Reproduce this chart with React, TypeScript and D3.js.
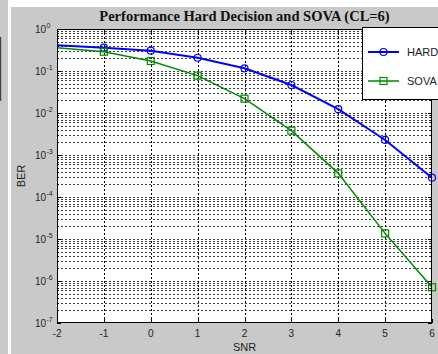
import React, { useRef, useEffect } from "react"
import * as d3 from "d3"

const SNR = [-2, -1, 0, 1, 2, 3, 4, 5, 6]
const HARD = [0.41, 0.36, 0.304, 0.207, 0.116, 0.0464, 0.0123, 0.00228, 0.000288]
const SOVA = [0.36, 0.288, 0.173, 0.0775, 0.0219, 0.0038, 0.000365, 0.0000136, 0.00000071]
const X_TICKS = [-2, -1, 0, 1, 2, 3, 4, 5, 6]
const Y_EXPONENTS = [0, -1, -2, -3, -4, -5, -6, -7]

const WIDTH = 438
const HEIGHT = 354
const PLOT = { left: 57, top: 29, right: 432, bottom: 323 }
const BG = "#c9c9c9"

export default function App() {
  const svgRef = useRef<SVGSVGElement>(null)

  useEffect(() => {
    const svg = svgRef.current
    if (!svg) return
    document.body.style.margin = "0"

    const root = d3.select(svg)
    root.selectAll("*").remove()
    root.attr("width", WIDTH).attr("height", HEIGHT)

    // Figure panels
    root.append("rect").attr("width", WIDTH).attr("height", HEIGHT).attr("fill", "#fff")
    root.append("rect").attr("x", 0).attr("y", 0).attr("width", 8).attr("height", HEIGHT).attr("fill", BG)
    root.append("rect").attr("x", 0).attr("y", 37).attr("width", 1.2).attr("height", 64).attr("fill", "#444")
    root.append("rect").attr("x", 11).attr("y", 7).attr("width", WIDTH - 11).attr("height", HEIGHT - 7).attr("fill", BG)

    const x = d3.scaleLinear().domain([-2, 6]).range([PLOT.left, PLOT.right])
    const y = d3.scaleLog().domain([1e-7, 1]).range([PLOT.bottom, PLOT.top])
    const innerW = PLOT.right - PLOT.left
    const innerH = PLOT.bottom - PLOT.top

    root.append("rect")
      .attr("x", PLOT.left).attr("y", PLOT.top)
      .attr("width", innerW).attr("height", innerH)
      .attr("fill", "#fff")

    // Grid: log minor + major
    const minor: number[] = []
    Y_EXPONENTS.slice(1).forEach((e) => {
      for (let m = 2; m <= 9; m++) minor.push(m * Math.pow(10, e))
    })
    const majors = Y_EXPONENTS.map((e) => Math.pow(10, e))

    const grid = root.append("g").attr("stroke", "#000").attr("stroke-width", 1).attr("stroke-dasharray", "2,2")
    grid.selectAll("line.h").data([...majors.slice(1, -1), ...minor]).join("line")
      .attr("x1", PLOT.left).attr("x2", PLOT.right)
      .attr("y1", (d) => Math.round(y(d)) + 0.5).attr("y2", (d) => Math.round(y(d)) + 0.5)
      .attr("stroke-opacity", 0.75)
    grid.selectAll("line.v").data(X_TICKS.slice(1, -1)).join("line")
      .attr("x1", (d) => Math.round(x(d)) + 0.5).attr("x2", (d) => Math.round(x(d)) + 0.5)
      .attr("y1", PLOT.top).attr("y2", PLOT.bottom)

    // Ticks (inward)
    const ticks = root.append("g").attr("stroke", "#000").attr("stroke-width", 1)
    X_TICKS.forEach((t) => {
      const px = Math.round(x(t)) + 0.5
      ticks.append("line").attr("x1", px).attr("x2", px).attr("y1", PLOT.bottom).attr("y2", PLOT.bottom - 4)
      ticks.append("line").attr("x1", px).attr("x2", px).attr("y1", PLOT.top).attr("y2", PLOT.top + 4)
    })
    majors.forEach((v) => {
      const py = Math.round(y(v)) + 0.5
      ticks.append("line").attr("x1", PLOT.left).attr("x2", PLOT.left + 4).attr("y1", py).attr("y2", py)
      ticks.append("line").attr("x1", PLOT.right).attr("x2", PLOT.right - 4).attr("y1", py).attr("y2", py)
    })
    minor.forEach((v) => {
      const py = Math.round(y(v)) + 0.5
      ticks.append("line").attr("x1", PLOT.left).attr("x2", PLOT.left + 2).attr("y1", py).attr("y2", py)
      ticks.append("line").attr("x1", PLOT.right).attr("x2", PLOT.right - 2).attr("y1", py).attr("y2", py)
    })

    // Series
    const clipId = "plot-clip"
    root.append("clipPath").attr("id", clipId).append("rect")
      .attr("x", PLOT.left).attr("y", PLOT.top).attr("width", innerW).attr("height", innerH)

    const series = [
      { name: "HARD", values: HARD, color: "#0000ff", width: 2, marker: "circle" },
      { name: "SOVA", values: SOVA, color: "#008a00", width: 1.5, marker: "square" },
    ]

    const line = d3.line<number>()
      .x((_, i) => x(SNR[i]))
      .y((d) => y(d))

    const drawMarker = (g: any, kind: string, cx: number, cy: number, color: string) => {
      if (kind === "circle") {
        g.append("circle").attr("cx", cx).attr("cy", cy).attr("r", 3.5)
          .attr("fill", "none").attr("stroke", color).attr("stroke-width", 1.2)
      } else {
        g.append("rect").attr("x", cx - 3.5).attr("y", cy - 3.5).attr("width", 7).attr("height", 7)
          .attr("fill", "none").attr("stroke", color).attr("stroke-width", 1.2)
      }
    }

    series.forEach((s) => {
      root.append("path").datum(s.values)
        .attr("clip-path", `url(#${clipId})`)
        .attr("fill", "none").attr("stroke", s.color)
        .attr("stroke-width", s.width).attr("d", line)
      const mg = root.append("g")
      s.values.forEach((v, i) => {
        if (SNR[i] <= x.domain()[0]) return
        drawMarker(mg, s.marker, x(SNR[i]), y(v), s.color)
      })
    })

    // Axis box
    root.append("rect")
      .attr("x", PLOT.left + 0.5).attr("y", PLOT.top + 0.5)
      .attr("width", innerW - 1).attr("height", innerH - 1)
      .attr("fill", "none").attr("stroke", "#000").attr("stroke-width", 1)

    // Tick labels
    const font = "'Liberation Sans', Arial, sans-serif"
    root.append("g").selectAll("text").data(X_TICKS).join("text")
      .attr("x", (d) => x(d)).attr("y", PLOT.bottom + 14)
      .attr("text-anchor", "middle")
      .attr("font-family", font).attr("font-size", 10).attr("fill", "#222")
      .text((d) => String(d))

    const yl = root.append("g").attr("font-family", font).attr("fill", "#222")
    Y_EXPONENTS.forEach((e) => {
      const py = y(Math.pow(10, e))
      yl.append("text").attr("x", 46).attr("y", py + 4).attr("text-anchor", "end").attr("font-size", 10).text("10")
      yl.append("text").attr("x", 46.5).attr("y", py - 1.5).attr("font-size", 7).text(String(e))
    })

    // Axis titles
    root.append("text")
      .attr("x", (PLOT.left + PLOT.right) / 2).attr("y", 351)
      .attr("text-anchor", "middle")
      .attr("font-family", font).attr("font-size", 11).attr("fill", "#222")
      .text("SNR")
    root.append("text")
      .attr("transform", `translate(25,${(PLOT.top + PLOT.bottom) / 2}) rotate(-90)`)
      .attr("text-anchor", "middle")
      .attr("font-family", font).attr("font-size", 11).attr("fill", "#222")
      .text("BER")

    root.append("text")
      .attr("x", (PLOT.left + PLOT.right) / 2).attr("y", 21)
      .attr("text-anchor", "middle")
      .attr("font-family", "'Liberation Serif', 'Times New Roman', serif")
      .attr("font-weight", "bold").attr("font-size", 14.5).attr("fill", "#111")
      .text("Performance Hard Decision and SOVA (CL=6)")

    // Legend
    const lg = root.append("g")
    lg.append("rect").attr("x", 362.5).attr("y", 27.5).attr("width", 90).attr("height", 72)
      .attr("fill", "#fff").attr("stroke", "#000").attr("stroke-width", 1)
    series.forEach((s, i) => {
      const ly = 52 + i * 29
      lg.append("line").attr("x1", 368).attr("x2", 399).attr("y1", ly).attr("y2", ly)
        .attr("stroke", s.color).attr("stroke-width", s.width)
      drawMarker(lg, s.marker, 383.5, ly, s.color)
      lg.append("text").attr("x", 407).attr("y", ly + 4)
        .attr("font-family", font).attr("font-size", 11).attr("fill", "#222")
        .text(s.name)
    })
  }, [])

  return <svg ref={svgRef} style={{ display: "block", position: "absolute", left: 0, top: 0 }} />
}
